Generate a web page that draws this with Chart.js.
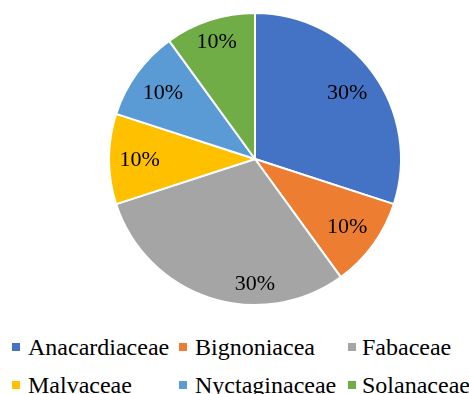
<!DOCTYPE html>
<html>
<head>
<meta charset="utf-8">
<script src="https://cdn.jsdelivr.net/npm/chart.js@4"></script>
<style>
  html, body { margin: 0; padding: 0; background: #fff; }
  #wrap { position: relative; width: 469px; height: 394px; overflow: hidden; }
  #c { position: absolute; left: 0; top: 0; }
  .lt { position: absolute; font-family: "Liberation Serif", "Times New Roman", serif; font-size: 24px; color: #000; white-space: nowrap; line-height: 24px; }
  .lm { position: absolute; width: 8px; height: 8px; }
</style>
</head>
<body>
<div id="wrap">
  <canvas id="c" width="469" height="320"></canvas>
  <div id="legend"></div>
</div>
<script>
const categories = ["Anacardiaceae", "Bignoniacea", "Fabaceae", "Malvaceae", "Nyctaginaceae", "Solanaceae"];
const values = [30, 10, 30, 10, 10, 10];
const valueLabels = ["30%", "10%", "30%", "10%", "10%", "10%"];
const colors = ["#4472C4", "#ED7D31", "#A5A5A5", "#FFC000", "#5B9BD5", "#70AD47"];

// label placement (radius fraction, angle offset in degrees) per slice
const labelRadius = [0.78, 0.78, 0.85, 0.79, 0.78, 0.85];
const labelAngleOffset = [0, 0, -18, 0, 0, 0];

const labelPlugin = {
  id: 'sliceLabels',
  afterDatasetsDraw(chart) {
    const ctx = chart.ctx;
    const meta = chart.getDatasetMeta(0);
    ctx.save();
    ctx.font = '22px "Liberation Serif", "Times New Roman", serif';
    ctx.fillStyle = '#000';
    ctx.textAlign = 'center';
    ctx.textBaseline = 'middle';
    meta.data.forEach((arc, i) => {
      const p = arc.getProps(['x', 'y', 'startAngle', 'endAngle', 'outerRadius'], true);
      const mid = (p.startAngle + p.endAngle) / 2 + labelAngleOffset[i] * Math.PI / 180;
      const r = p.outerRadius * labelRadius[i];
      ctx.fillText(valueLabels[i], p.x + Math.cos(mid) * r, p.y + Math.sin(mid) * r + 1);
    });
    ctx.restore();
  }
};

new Chart(document.getElementById('c'), {
  type: 'pie',
  data: {
    labels: categories,
    datasets: [{
      data: values,
      backgroundColor: colors,
      borderColor: '#ffffff',
      borderWidth: 2
    }]
  },
  options: {
    responsive: false,
    animation: false,
    layout: { padding: { left: 41, right: 0, top: 12, bottom: 14 } },
    plugins: {
      legend: { display: false },
      tooltip: { enabled: false }
    }
  },
  plugins: [labelPlugin]
});

// HTML legend built from the same arrays
const legendEl = document.getElementById('legend');
const markerX = [12, 179, 348];
const textX = [28, 195, 362];
const rowTop = [335, 373];
categories.forEach((name, i) => {
  const col = i % 3, row = Math.floor(i / 3);
  const m = document.createElement('div');
  m.className = 'lm';
  m.style.left = markerX[col] + 'px';
  m.style.top = (rowTop[row] + 8) + 'px';
  m.style.background = colors[i];
  legendEl.appendChild(m);
  const t = document.createElement('div');
  t.className = 'lt';
  t.style.left = textX[col] + 'px';
  t.style.top = rowTop[row] + 'px';
  t.textContent = name;
  legendEl.appendChild(t);
});
</script>
</body>
</html>
